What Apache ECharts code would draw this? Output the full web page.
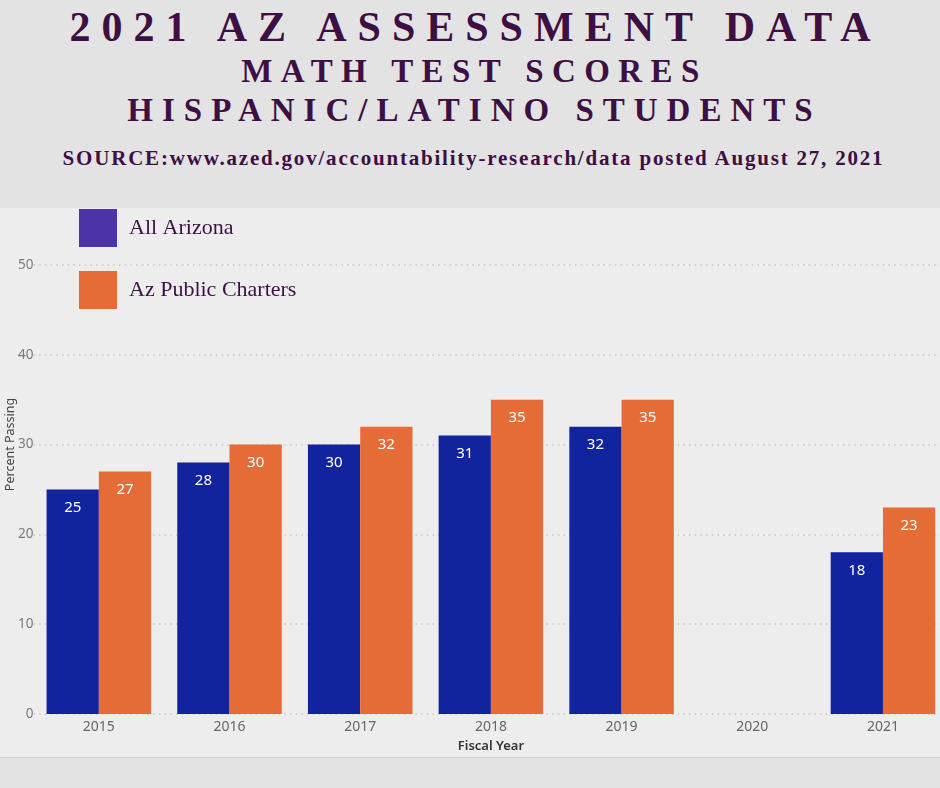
<!DOCTYPE html>
<html lang="en">
<head>
	<meta charset="UTF-8">
	<title>2021 AZ Assessment Data</title>
	<script src="https://cdn.jsdelivr.net/npm/echarts@6/dist/echarts.min.js"></script>
	<style>
		html,body{margin:0;padding:0;width:940px;height:788px;overflow:hidden;background:#e3e3e3;}
		.hdr{position:absolute;left:0;width:940px;text-align:center;white-space:nowrap;
			font-family:'Liberation Serif',serif;font-weight:bold;color:#3d0f43;}
		.t1{top:6px;font-size:42px;line-height:42px;letter-spacing:11px;padding-left:11px;box-sizing:border-box;}
		.t2{top:55px;font-size:33px;line-height:33px;letter-spacing:8.4px;padding-left:9px;box-sizing:border-box;}
		.t3{top:94px;font-size:33px;line-height:33px;letter-spacing:9px;padding-left:9px;box-sizing:border-box;}
		.src{top:148px;font-size:21px;line-height:21px;letter-spacing:1.8px;padding-left:7px;box-sizing:border-box;}
		#chart{position:absolute;left:0;top:208px;width:940px;height:549px;border-bottom:1px solid #d2d2d2;}
	</style>
</head>
<body>
	<div class="hdr t1">2021 AZ ASSESSMENT DATA</div>
	<div class="hdr t2">MATH TEST SCORES</div>
	<div class="hdr t3">HISPANIC/LATINO STUDENTS</div>
	<div class="hdr src">SOURCE:www.azed.gov/accountability-research/data posted August 27, 2021</div>
	<div id="chart"></div>
<script>
	// 数据
	var years = ['2015', '2016', '2017', '2018', '2019', '2020', '2021'];
	var allArizona = [25, 28, 30, 31, 32, null, 18];
	var azCharters = [27, 30, 32, 35, 35, null, 23];
	var yTicks = [0, 10, 20, 30, 40, 50];

	var labelFont = "'Noto Sans', 'Open Sans', sans-serif";

	function barLabel () {
		return {
			show: true,
			position: 'insideTop',
			distance: 11,
			color: '#ffffff',
			fontSize: 15,
			fontFamily: labelFont
		};
	}

	var myChart = echarts.init(document.getElementById('chart'));
	var options = {
		backgroundColor: '#ededed',
		animation: false,
		legend: {
			orient: 'vertical',
			left: 74,
			top: -4,
			itemWidth: 38,
			itemHeight: 38,
			itemGap: 24,
			icon: 'rect',
			selectedMode: false,
			textStyle: {
				fontFamily: "'Liberation Serif', serif",
				fontSize: 22,
				color: '#3a1142',
				padding: [0, 0, 0, 7]
			},
			data: [
				{name: 'All Arizona', itemStyle: {color: '#4a34a8'}},
				{name: 'Az Public Charters', itemStyle: {color: '#e66c37'}}
			]
		},
		grid: {
			left: 33.5,
			right: -8.3,
			top: 57,
			bottom: 43,
			outerBoundsMode: 'none'
		},
		xAxis: {
			type: 'category',
			data: years,
			axisLine: {show: false},
			axisTick: {show: false},
			axisLabel: {
				color: '#666666',
				fontSize: 14,
				fontFamily: labelFont,
				margin: 6
			},
			name: 'Fiscal Year',
			nameLocation: 'middle',
			nameGap: 26,
			nameTextStyle: {
				color: '#333333',
				fontSize: 13,
				fontWeight: 600,
				fontFamily: labelFont
			}
		},
		yAxis: {
			type: 'value',
			min: yTicks[0],
			max: yTicks[yTicks.length - 1],
			interval: 10,
			axisLine: {show: false},
			axisTick: {show: false},
			axisLabel: {
				color: '#7a7a7a',
				fontSize: 13.5,
				fontFamily: labelFont,
				margin: 0
			},
			splitLine: {
				show: true,
				lineStyle: {color: '#d0d0d0', width: 2, type: [1.5, 4.2]}
			},
			name: 'Percent Passing',
			nameLocation: 'middle',
			nameGap: 17,
			nameMoveOverlap: false,
			nameTextStyle: {
				color: '#444444',
				fontSize: 12.5,
				fontFamily: labelFont,
				padding: [0, 0, 0, 90]
			}
		},
		series: [
			{
				name: 'All Arizona',
				type: 'bar',
				data: allArizona,
				barGap: '0%',
				barCategoryGap: '20%',
				itemStyle: {color: '#12239e'},
				label: barLabel()
			},
			{
				name: 'Az Public Charters',
				type: 'bar',
				data: azCharters,
				barGap: '0%',
				barCategoryGap: '20%',
				itemStyle: {color: '#e66c37'},
				label: barLabel()
			}
		]
	};
	myChart.setOption(options);
</script>
</body>
</html>
